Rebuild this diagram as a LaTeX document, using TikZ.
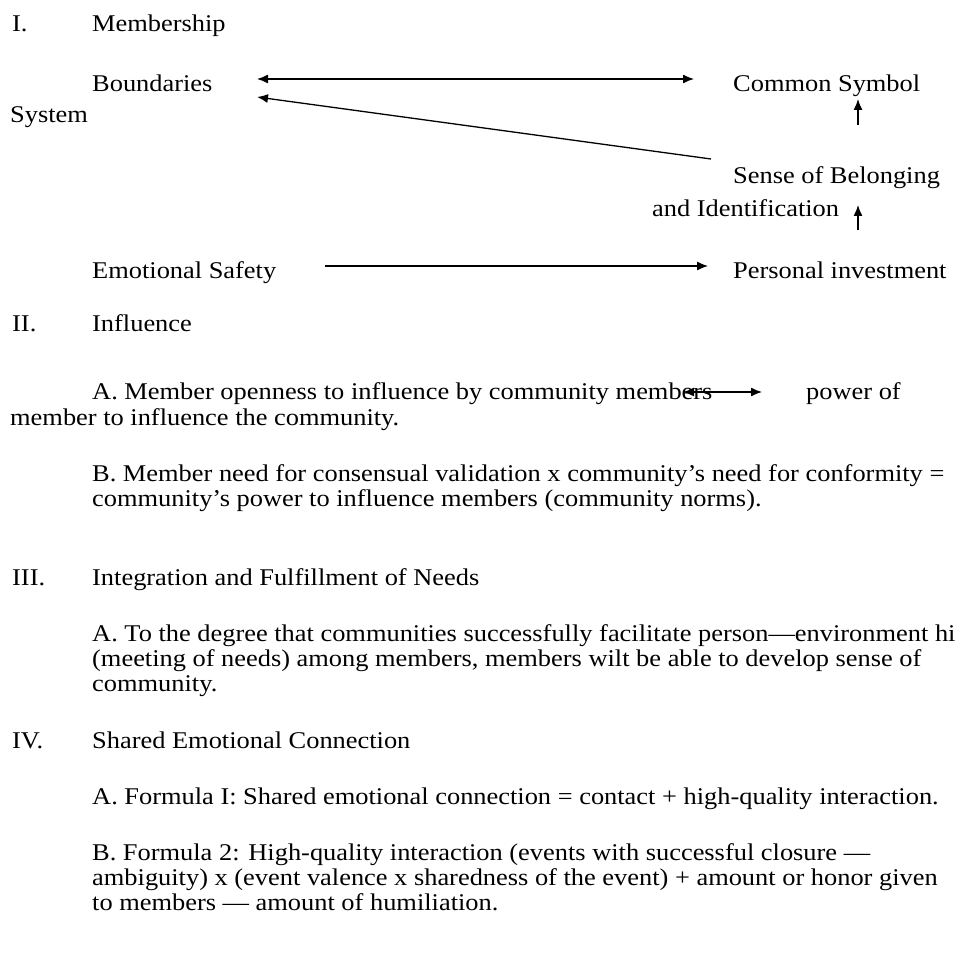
\documentclass[tikz,border=0pt]{standalone}
\usepackage{fontspec}
\setmainfont{Liberation Serif}[FakeStretch=1.1]
\usetikzlibrary{arrows.meta}
\begin{document}
\begin{tikzpicture}[x=1pt,y=-1pt,
  txt/.style={anchor=base west,inner sep=0pt,font=\fontsize{24}{25}\selectfont},
  conn/.style={line width=1.3pt,-{Latex[length=11pt,width=9pt]}},
  dconn/.style={line width=1.3pt,{Latex[length=11pt,width=9pt]}-{Latex[length=11pt,width=9pt]}}]
\useasboundingbox[fill=white] (0,0) rectangle (966,960);
% Section I
\node[txt] (n1) at (12,32) {I.};
\node[txt] (memb) at (92,32) {Membership};
\node[txt] (bound) at (92,92) {Boundaries};
\node[txt] (sys) at (10,123) {System};
\node[txt] (csym) at (733,92) {Common Symbol};
\node[txt] (sense) at (733,184) {Sense of Belonging};
\node[txt] (ident) at (652,216) {and Identification};
\node[txt] (emo) at (92,278) {Emotional Safety};
\node[txt] (pers) at (733,278) {Personal investment};
\coordinate (bA) at (257,79);
\coordinate (cA) at (694,79);
\coordinate (bB) at (257,97);
\coordinate (sB) at (711,159);
\coordinate (sU1) at (858,125);
\coordinate (cU1) at (858,99);
\coordinate (iU2) at (858,230);
\coordinate (iU3) at (858,205);
\coordinate (eA) at (325,266);
\coordinate (pA) at (708,266);
\draw[dconn] (bA) -- (cA);
\draw[conn] (sB) -- (bB);
\draw[conn] (sU1) -- (cU1);
\draw[conn] (iU2) -- (iU3);
\draw[conn] (eA) -- (pA);
% Section II
\node[txt] (n2) at (12,331) {II.};
\node[txt] (infl) at (92,331) {Influence};
\node[txt] (iiA1) at (92,399) {A. Member openness to influence by community members};
\node[txt] (powof) at (806,399) {power of};
\node[txt] (iiA2) at (10,425) {member to influence the community.};
\coordinate (mA) at (683,392);
\coordinate (mB) at (762,392);
\draw[dconn] (mA) -- (mB);
\node[txt] (iiB1) at (92,481) {B. Member need for consensual validation x community’s need for conformity =};
\node[txt] (iiB2) at (92,506) {community’s power to influence members (community norms).};
% Section III
\node[txt] (n3) at (12,585) {III.};
\node[txt] (integ) at (92,585) {Integration and Fulfillment of Needs};
\node[txt] (iiiA1) at (92,641) {A. To the degree that communities successfully facilitate person—environment hi};
\node[txt] (iiiA2) at (92,666) {(meeting of needs) among members, members wilt be able to develop sense of};
\node[txt] (iiiA3) at (92,691) {community.};
% Section IV
\node[txt] (n4) at (12,748) {IV.};
\node[txt] (shared) at (92,748) {Shared Emotional Connection};
\node[txt] (ivA) at (92,804) {A. Formula I: Shared emotional connection = contact + high-quality interaction.};
\node[txt] (ivB1) at (92,860) {B. Formula 2: High-quality interaction (events with successful closure —};
\node[txt] (ivB2) at (92,885) {ambiguity) x (event valence x sharedness of the event) + amount or honor given};
\node[txt] (ivB3) at (92,910) {to members — amount of humiliation.};
\end{tikzpicture}
\end{document}
